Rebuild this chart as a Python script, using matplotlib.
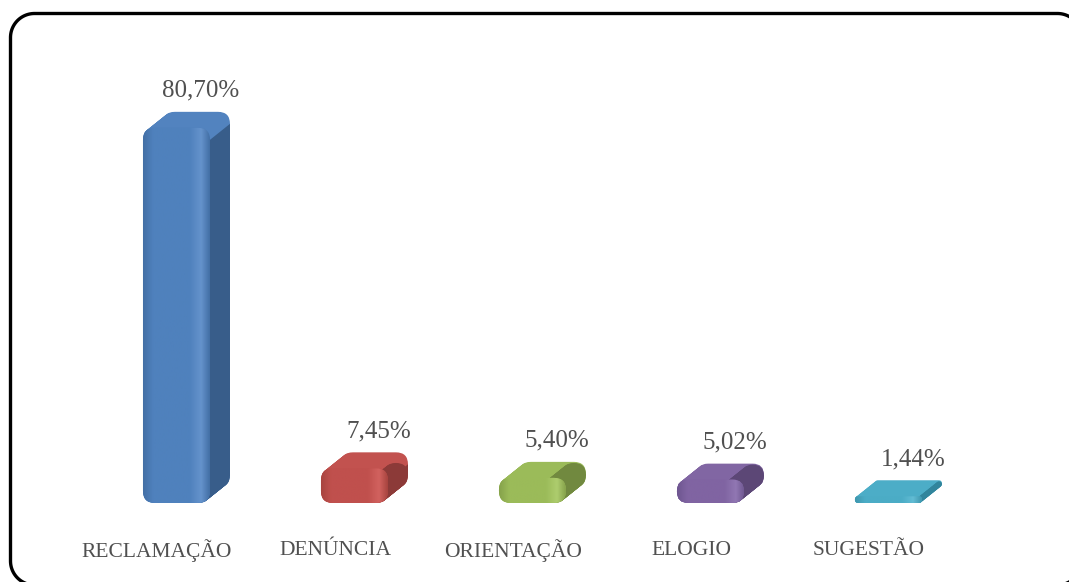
import numpy as np
import matplotlib.pyplot as plt
from matplotlib.lines import Line2D
from matplotlib.patches import FancyBboxPatch, Polygon
from matplotlib.colors import LinearSegmentedColormap

categories = ['RECLAMAÇÃO', 'DENÚNCIA', 'ORIENTAÇÃO', 'ELOGIO', 'SUGESTÃO']
values = [80.70, 7.45, 5.40, 5.02, 1.44]
value_labels = ['80,70%', '7,45%', '5,40%', '5,02%', '1,44%']

# front / side / top / highlight / edge colours for each bar
base_colors = ['#4F81BD', '#C0504D', '#9BBB59', '#8064A2', '#4BACC6']
side_colors = ['#385D8A', '#8C3A38', '#71893F', '#5C4776', '#31859C']
top_colors = ['#5283BF', '#C2524F', '#9BBB59', '#8166A3', '#4CADC7']
light_colors = ['#6593CC', '#D2625F', '#AECD6E', '#9177B3', '#62BCD4']
dark_colors = ['#436FA5', '#A8443F', '#86A24B', '#6E5690', '#3F97AE']

TEXT = '#505050'
FONT = 'Liberation Serif'
W, H = 1069, 582


def rounded_rect(x0, y0, x1, y1, r, n=30):
    # polyline of a rounded rectangle (plain segments, so canvas clipping stays clean)
    pts = []
    corners = [(x1 - r, y1 - r, 0), (x0 + r, y1 - r, 90),
               (x0 + r, y0 + r, 180), (x1 - r, y0 + r, 270)]
    for cx, cy, a0 in corners:
        a = np.radians(np.linspace(a0, a0 + 90, n))
        pts.append(np.column_stack([cx + r * np.cos(a), cy + r * np.sin(a)]))
    pts = np.vstack(pts + [pts[0][:1]])
    return pts[:, 0], pts[:, 1]


fig = plt.figure(figsize=(W / 100, H / 100), dpi=100)

# outer rounded border, runs off the right and bottom edges (display pixels, y up)
bx, by = rounded_rect(10.5, -3, 1081.5, 568.5, 24)
fig.add_artist(Line2D(bx, by, color='black', lw=2.4, transform=None))

ax = fig.add_axes([0, 0, 1, 1])
ax.axis('off')
ax.set_xlim(-0.882, 5.124)
ax.set_ylim(-17.0, 108.2)

sx = W / (5.124 + 0.882)      # px per x unit
sy = H / (108.2 + 17.0)       # px per y unit
aspect = sx / sy

left_off = -14 / sx
front_w = 67 / sx
dx = 20 / sx
dy = 16 / sy

for i, v in enumerate(values):
    x0 = i + left_off
    x1 = x0 + front_w
    h_px = v * sy
    r = min(12, h_px / 2 - 0.5) / sx
    ry = r * aspect

    # extrusion sweep (top face colour)
    for t in np.linspace(1, 0, 25):
        ax.add_patch(FancyBboxPatch((x0 + t * dx, t * dy), front_w, v,
                                    boxstyle=f'round,pad=0,rounding_size={r}',
                                    mutation_aspect=aspect,
                                    fc=top_colors[i], ec='none', zorder=2))
    # right side face
    ax.add_patch(Polygon([(x1, ry), (x1 + dx, ry + dy),
                          (x1 + dx, v - ry + dy), (x1, v - ry)],
                         closed=True, fc=side_colors[i], ec='none', zorder=3))
    # bottom-right corner sweep in side colour
    for t in np.linspace(1, 0, 25):
        ax.add_patch(FancyBboxPatch((x1 - 2 * r + t * dx, t * dy), 2 * r, min(v, 2 * ry),
                                    boxstyle=f'round,pad=0,rounding_size={r}',
                                    mutation_aspect=aspect,
                                    fc=side_colors[i], ec='none', zorder=3))

    # front face with horizontal gradient
    front = FancyBboxPatch((x0, 0), front_w, v,
                           boxstyle=f'round,pad=0,rounding_size={r}',
                           mutation_aspect=aspect,
                           fc=base_colors[i], ec='none', zorder=4)
    ax.add_patch(front)
    cmap = LinearSegmentedColormap.from_list(
        f'g{i}', [(0, dark_colors[i]), (0.15, base_colors[i]), (0.7, base_colors[i]),
                  (0.87, light_colors[i]), (1, dark_colors[i])])
    grad = np.linspace(0, 1, 200).reshape(1, -1)
    im = ax.imshow(grad, extent=(x0, x1, 0, v), aspect='auto', cmap=cmap,
                   zorder=5, interpolation='bilinear')
    im.set_clip_path(front)

    ax.annotate(value_labels[i], xy=(i, v), xytext=(44 * 0.72, 37 * 0.72),
                textcoords='offset points', ha='center', va='center',
                fontsize=18, color=TEXT, family=FONT)
    ax.text(i, -10.3, categories[i], ha='center', va='center',
            fontsize=15.5, color=TEXT, family=FONT)

ax.set_xlim(-0.882, 5.124)
ax.set_ylim(-17.0, 108.2)

fig.savefig('out.png', dpi=100)
